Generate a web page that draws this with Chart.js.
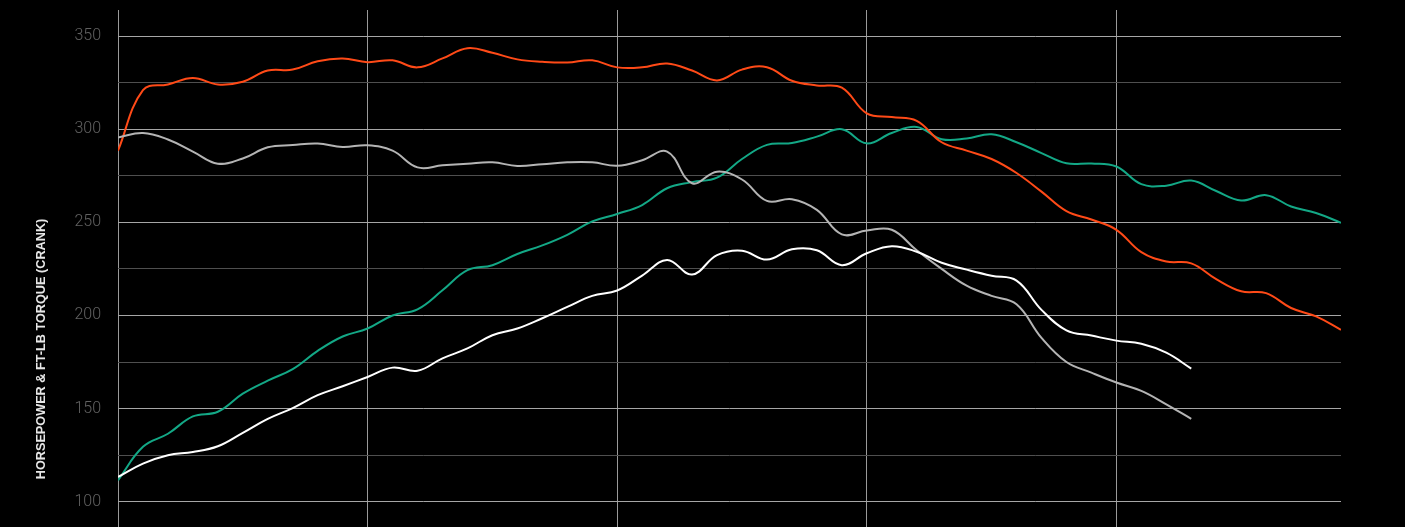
<!DOCTYPE html>
<html>
<head>
<meta charset="utf-8">
<script src="https://cdn.jsdelivr.net/npm/chart.js@4.4.1/dist/chart.umd.min.js"></script>
<style>
  html, body { margin: 0; padding: 0; background: #000; }
  #clip { width: 1405px; height: 527px; overflow: hidden; position: relative; background: #000; }
  canvas { display: block; }
</style>
</head>
<body>
<div id="clip"><canvas id="c" width="1405" height="690"></canvas></div>
<script>
// RPM categories (x)
const rpm = [2000,2100,2200,2300,2400,2500,2600,2700,2800,2900,
             3000,3100,3200,3300,3400,3500,3600,3700,3800,3900,
             4000,4100,4200,4300,4400,4500,4600,4700,4800,4900,
             5000,5100,5200,5300,5400,5500,5600,5700,5800,5900,
             6000,6100,6200,6300,6400,6500,6600,6700,6800,6900];

// Series values
const torqueModified = [288.5,321,324,327.5,324,325.5,331.5,332,336.5,338,
                        336,337,333.2,338,343.5,341,337.5,336.2,335.8,337,
                        333.2,333.2,335.3,331.5,326.2,332,333.3,326,323.5,322.3,
                        308.5,306.5,304.5,293,288.5,284,276.5,266.5,256,251.5,
                        246,234,229,228,219.5,213,212,204,199.5,192.3];
const torqueStock = [295.6,298,294.5,288,281.5,284.3,290.3,291.5,292.3,290.5,
                     291.4,288.5,279.5,280.6,281.5,282.2,280.3,281.2,282.2,282.2,
                     280.4,283.3,288,271,277.2,273,261.5,262.4,256.7,243.5,
                     245.6,246,235,225,216,210.5,206,188,175,169.3,
                     164,159.5,152.3,144.5];
const hpModified = [111.5,129.5,136.5,145.8,148.3,158,165,171.2,181,188.7,
                    193,200,203.3,213.5,224.3,227,233,237.6,243.3,250.5,
                    254.5,259.3,268.3,271.6,274,284,291.6,292.6,296,300,
                    292.4,298,301.2,294.6,295,297.3,293,287.2,281.7,281.6,
                    280,270.5,269.7,272.4,266.8,261.7,264.6,258.5,255,249.8];
const hpStock = [113.3,120.5,125,126.7,129.8,137,144.5,150.3,157.2,162,
                 167,172,170.3,177,182.3,189.4,193,198.5,204.6,210.5,
                 213.4,221.4,229.8,222,232.4,234.8,230,235.5,235,227,
                 233.4,237.2,234.2,228.3,224.6,221.3,218.7,203,192,189.2,
                 186.5,184.8,180,171.5];

// Tick values
const yTicks = [0,25,50,75,100,125,150,175,200,225,250,275,300,325,350];
const xTicks = [2000,3000,4000,5000,6000];
const yTitle = 'HORSEPOWER & FT-LB TORQUE (CRANK)';

const pts = arr => arr.map((v, i) => ({ x: rpm[i], y: v }));

const mk = (label, arr, color) => ({
  label, data: pts(arr), borderColor: color, backgroundColor: color,
  borderWidth: 2, pointRadius: 0, tension: 0.4, fill: false
});

new Chart(document.getElementById('c'), {
  type: 'line',
  data: {
    datasets: [
      mk('HP stock', hpStock, '#ffffff'),
      mk('Torque stock', torqueStock, '#b4b4b4'),
      mk('Torque modified', torqueModified, '#ff4a17'),
      mk('HP modified', hpModified, '#13a886')
    ]
  },
  options: {
    responsive: false,
    animation: false,
    layout: { padding: { top: 10, right: 64, bottom: 2, left: 0 } },
    plugins: { legend: { display: false }, tooltip: { enabled: false } },
    scales: {
      x: {
        type: 'linear',
        min: rpm[0],
        max: rpm[rpm.length - 1],
        afterBuildTicks: s => { s.ticks = xTicks.map(v => ({ value: v })); },
        afterFit: s => { s.height = 0; s.paddingLeft = 0; s.paddingRight = 0; },
        ticks: { display: false },
        grid: { color: '#9a9a9a', lineWidth: 1, drawTicks: false },
        border: { display: false }
      },
      y: {
        min: 0,
        max: 364,
        afterBuildTicks: s => { s.ticks = yTicks.map(v => ({ value: v })); },
        afterFit: s => { s.width = 118; s.paddingTop = 0; s.paddingBottom = 0; },
        ticks: {
          color: '#616161',
          padding: 17,
          font: { family: 'Roboto', size: 16, weight: '300' },
          callback: v => (v % 50 === 0 ? String(v) : '')
        },
        grid: {
          drawTicks: false,
          lineWidth: 1,
          color: ctx => (ctx.tick && ctx.tick.value % 50 === 0 ? '#a6a6a6' : '#4f4f4f')
        },
        border: { display: false },
        title: {
          display: true,
          text: yTitle,
          color: '#e6e6e6',
          padding: { top: 34, bottom: 0 },
          font: { family: "'Liberation Sans', Arial, sans-serif", size: 12.7, weight: 'bold' }
        }
      }
    }
  }
});
</script>
</body>
</html>
